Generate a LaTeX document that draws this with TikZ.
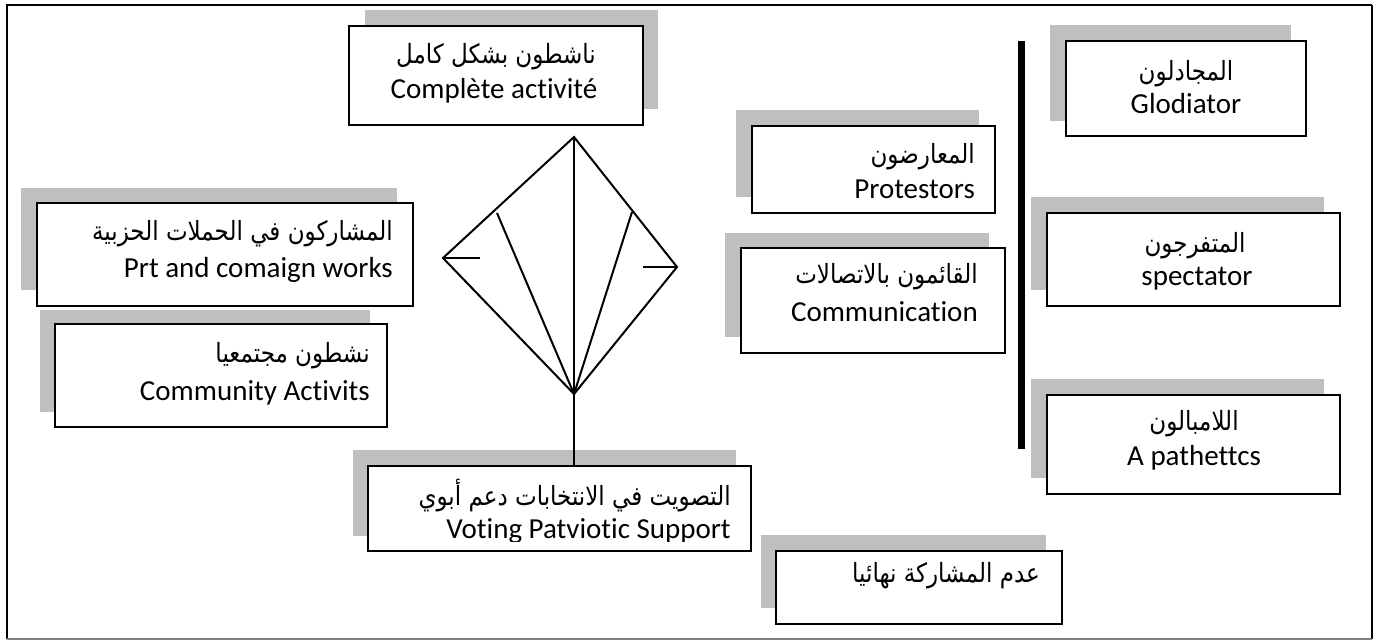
\documentclass[tikz,border=0pt]{standalone}
\usepackage{graphicx}
\usepackage{fontspec}
\setmainfont{Carlito}[Ligatures=NoCommon]
\newfontfamily\arabicfont[Script=Arabic]{DejaVu Sans}
\TeXXeTstate=1
\definecolor{shadowgray}{RGB}{191,191,191}
\newcommand{\artxt}[1]{\scalebox{1}[1.15]{\beginR #1\endR}}
\begin{document}
\begin{tikzpicture}[x=1pt,y=-1pt,
  shadebox/.style={fill=shadowgray, draw=none, anchor=north west, inner sep=0pt, outer sep=0pt},
  mainbox/.style={draw=black, line width=2pt, fill=white, anchor=north west, inner sep=0pt, outer sep=0pt},
  lat/.style={font=\fontsize{29}{35}\selectfont, inner sep=0pt},
  ara/.style={font=\fontsize{23}{29}\arabicfont, inner sep=0pt},
  dline/.style={line width=2pt, line join=miter}]
\useasboundingbox (0,0) rectangle (1378,641);
% frame
\draw[line width=2.2pt] (7,639) -- (7,5) -- (1372,5);
\draw[line width=1.2pt] (1372,5) -- (1372,639);
\draw[gray, line width=1.5pt] (7,639) -- (1372,639);

% box 1
\node[shadebox, minimum width=293pt, minimum height=99pt] (s1) at (365,10) {};
\node[mainbox, minimum width=294pt, minimum height=99pt] (b1) at (349,26) {};
\node[ara, anchor=base] (t1a) at (496,63) {\artxt{ناشطون بشكل كامل}};
\node[lat, anchor=base] (t1l) at (494,98) {Complète activité};

% box 2
\node[shadebox, minimum width=376pt, minimum height=102pt] (s2) at (21,188) {};
\node[mainbox, minimum width=376pt, minimum height=103pt] (b2) at (37,203) {};
\node[ara, anchor=base east] (t2a) at (393,240) {\artxt{المشاركون في الحملات الحزبية}};
\node[lat, anchor=base east] (t2l) at (393,277) {Prt and comaign works};

% box 3
\node[shadebox, minimum width=330pt, minimum height=102pt] (s3) at (40,310) {};
\node[mainbox, minimum width=332pt, minimum height=103pt] (b3) at (55,324) {};
\node[ara, anchor=base east] (t3a) at (370,362) {\artxt{نشطون مجتمعيا}};
\node[lat, anchor=base east] (t3l) at (370,400) {Community Activits};

% box 4
\node[shadebox, minimum width=383pt, minimum height=86pt] (s4) at (353,450) {};
\node[mainbox, minimum width=383pt, minimum height=85pt] (b4) at (368,466) {};
\node[ara, anchor=base east] (t4a) at (731,505) {\artxt{التصويت في الانتخابات دعم أبوي}};
\begin{scope}
\clip (368,466) rectangle (751,541);
\node[lat, anchor=base east] (t4l) at (731,538) {Voting Patviotic Support};
\end{scope}

% box 5
\node[shadebox, minimum width=243pt, minimum height=87pt] (s5) at (736,110) {};
\node[mainbox, minimum width=243pt, minimum height=87pt] (b5) at (752,126) {};
\node[ara, anchor=base east] (t5a) at (975,163) {\artxt{المعارضون}};
\node[lat, anchor=base east] (t5l) at (975,198) {Protestors};

% box 6
\node[shadebox, minimum width=264pt, minimum height=104pt] (s6) at (725,233) {};
\node[mainbox, minimum width=264pt, minimum height=105pt] (b6) at (741,248) {};
\node[ara, anchor=base east] (t6a) at (978,283) {\artxt{القائمون بالاتصالات}};
\node[lat, anchor=base east] (t6l) at (978,321) {Communication};

% box 7
\node[shadebox, minimum width=241pt, minimum height=96pt] (s7) at (1050,25) {};
\node[mainbox, minimum width=240pt, minimum height=95pt] (b7) at (1066,41) {};
\node[ara, anchor=base] (t7a) at (1186,80) {\artxt{المجادلون}};
\node[lat, anchor=base] (t7l) at (1186,113) {Glodiator};

% box 8
\node[shadebox, minimum width=293pt, minimum height=93pt] (s8) at (1031,197) {};
\node[mainbox, minimum width=293pt, minimum height=93pt] (b8) at (1047,213) {};
\node[ara, anchor=base] (t8a) at (1195,252) {\artxt{المتفرجون}};
\node[lat, anchor=base] (t8l) at (1197,285) {spectator};

% box 9
\node[shadebox, minimum width=293pt, minimum height=99pt] (s9) at (1031,379) {};
\node[mainbox, minimum width=293pt, minimum height=99pt] (b9) at (1047,395) {};
\node[ara, anchor=base] (t9a) at (1194,430) {\artxt{اللامبالون}};
\node[lat, anchor=base] (t9l) at (1194,465) {A pathettcs};

% box 10
\node[shadebox, minimum width=285pt, minimum height=73pt] (s10) at (761,535) {};
\node[mainbox, minimum width=286pt, minimum height=73pt] (b10) at (776,551) {};
\node[ara, anchor=base east] (t10a) at (1040,582) {\artxt{عدم المشاركة نهائيا}};

% thick bar
\draw[line width=7pt] (1021,41) -- (1021,449);

% diamond
\coordinate (dtop) at (574,137);
\coordinate (dleft) at (443,258);
\coordinate (dright) at (677,267);
\coordinate (dbot) at (574,394);
\coordinate (innl) at (497,213);
\coordinate (innr) at (632,212);
\draw[dline] (dtop) -- (dleft) -- (dbot) -- (dright) -- cycle;
\draw[dline] (dtop) -- (dbot);
\draw[dline] (dleft) -- ++(37,0);
\draw[dline] (dright) -- ++(-34,0);
\draw[dline] (innl) -- (dbot);
\draw[dline] (innr) -- (dbot);
\draw[dline] (dbot) -- (dbot |- b4.north);
\end{tikzpicture}
\end{document}
